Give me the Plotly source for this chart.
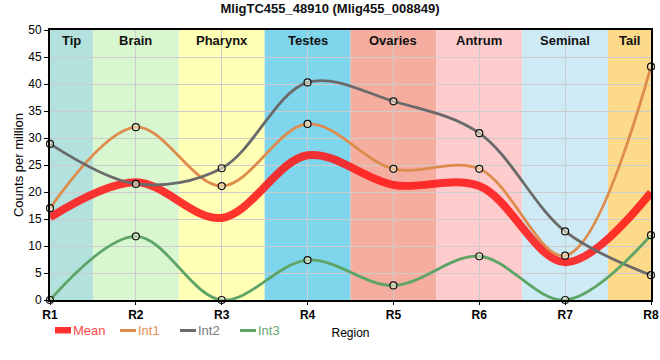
import plotly.graph_objects as go

title = "MligTC455_48910 (Mlig455_008849)"
regions = ["R1", "R2", "R3", "R4", "R5", "R6", "R7", "R8"]
mean = [15.3, 21.8, 15.2, 26.8, 21.3, 21.1, 7.0, 19.9]
int1 = [17.0, 32.0, 21.1, 32.6, 24.3, 24.3, 8.2, 43.2]
int2 = [28.9, 21.5, 24.4, 40.3, 36.8, 30.9, 12.7, 4.6]
int3 = [0.0, 11.8, 0.0, 7.4, 2.7, 8.1, 0.0, 12.0]
tissues = ["Tip", "Brain", "Pharynx", "Testes", "Ovaries", "Antrum", "Seminal", "Tail"]
tissue_colors = ["#b3e1dd", "#d8f6d0", "#ffffb5", "#7fd5ec", "#f5ad9f", "#ffcccd", "#ceebf5", "#fdd98a"]
band_edges = [1, 1.5, 2.5, 3.5, 4.5, 5.5, 6.5, 7.5, 8]

FONT = "Liberation Sans, Arial, sans-serif"
xs = list(range(1, len(regions) + 1))

fig = go.Figure()

for i, (name, col) in enumerate(zip(tissues, tissue_colors)):
    x0, x1 = band_edges[i], band_edges[i + 1]
    fig.add_shape(type="rect", xref="x", yref="paper", x0=x0, x1=x1, y0=0, y1=1,
                  fillcolor=col, line_width=0, layer="below")
    fig.add_annotation(x=(x0 + x1) / 2, xref="x", y=1, yref="paper", yanchor="top", yshift=-1,
                       text="<b>" + name + "</b>", showarrow=False,
                       font=dict(family=FONT, size=13, color="#111"))

series = [
    ("Mean", mean, "rgba(255,25,25,0.88)", 8, "#ff4a4a"),
    ("Int1", int1, "#de8c4c", 2.8, "#e0925a"),
    ("Int2", int2, "#6a6a6a", 2.8, "#7a7a7a"),
    ("Int3", int3, "#5da466", 2.8, "#66a870"),
]
for name, vals, col, w, tcol in series:
    fig.add_trace(go.Scatter(x=xs, y=vals, mode="lines", name=name, showlegend=False,
                             line=dict(color=col, width=w, shape="spline", smoothing=1.0)))

for name, vals, col, w, tcol in series[1:]:
    fig.add_trace(go.Scatter(x=xs, y=vals, mode="markers", showlegend=False, cliponaxis=False,
                             marker=dict(symbol="circle", size=7, color="rgba(245,240,215,0.55)",
                                         line=dict(width=1.2, color="#111")), hoverinfo="skip"))

# compact legend (pixel layout converted to paper coords)
PL, PW, PB, PH = 50, 601, 300, 270
def px_x(p):
    return (p - PL) / PW
def px_y(p):
    return (PB - p) / PH
leg_x = [55, 120, 180, 240]
for (name, vals, col, w, tcol), lx in zip(series, leg_x):
    if name == "Mean":
        fig.add_shape(type="rect", xref="paper", yref="paper", x0=px_x(lx), x1=px_x(lx + 16),
                      y0=px_y(333.5), y1=px_y(327), fillcolor="#ff3030", line_width=0)
    else:
        fig.add_shape(type="line", xref="paper", yref="paper", x0=px_x(lx), x1=px_x(lx + 16),
                      y0=px_y(330.5), y1=px_y(330.5), line=dict(color=col, width=3))
    fig.add_annotation(x=px_x(lx + 18), xref="paper", xanchor="left", y=px_y(331), yref="paper",
                       yanchor="middle", text=name, showarrow=False, xshift=-2,
                       font=dict(family=FONT, size=13, color=tcol))

fig.update_layout(
    width=660, height=360,
    margin=dict(l=50, r=9, t=30, b=60, autoexpand=False),
    paper_bgcolor="white", plot_bgcolor="white",
    font=dict(family=FONT, size=12, color="#000"),
    title=dict(text="<b>" + title + "</b>", x=0.5, xanchor="center", y=0.988, yanchor="top",
               font=dict(family=FONT, size=13, color="#111")),
    showlegend=False,
)
fig.update_xaxes(range=[1, 8], tickvals=xs, ticktext=["<b>" + r + "</b>" for r in regions],
                 showgrid=True, gridcolor="#cccccc", gridwidth=1, automargin=False,
                 showline=True, linecolor="#000", linewidth=2, mirror=True,
                 ticks="outside", ticklen=3, tickcolor="#000",
                 tickfont=dict(family=FONT, size=12, color="#000"),
                 title=dict(text="Region", standoff=7, font=dict(family=FONT, size=12)),
                 zeroline=False)
fig.update_yaxes(range=[0, 50], dtick=5, showgrid=True, gridcolor="#cccccc", gridwidth=1,
                 automargin=False,
                 showline=True, linecolor="#000", linewidth=2, mirror=True,
                 ticks="outside", ticklen=4, tickcolor="#000",
                 tickfont=dict(family=FONT, size=12, color="#000"),
                 title=dict(text="Counts per million", standoff=2,
                            font=dict(family=FONT, size=13)),
                 zeroline=False)

fig.write_html("out.html", post_script="document.body.style.margin='0';",
               config={"displayModeBar": False})
